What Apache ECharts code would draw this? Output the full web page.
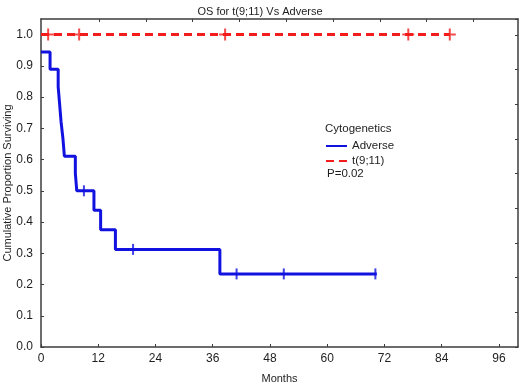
<!DOCTYPE html>
<html>
<head>
<meta charset="utf-8">
<script src="https://cdn.jsdelivr.net/npm/echarts@6/dist/echarts.min.js"></script>
<style>
html,body{margin:0;padding:0;background:#fff;}
#chart{width:520px;height:384px;}
</style>
</head>
<body>
<div id="chart"></div>
<script>
// ---- data ----
const titleText = 'OS for t(9;11) Vs Adverse';
const xTicks = [0, 12, 24, 36, 48, 60, 72, 84, 96];
// Adverse: step starts (months) and survival level from that time
const adverseTimes = [0, 1.9, 3.6, 3.9, 4.2, 4.6, 4.9, 7.2, 7.5, 11.1, 12.5, 15.6, 37.5, 70.4];
const adverseSurv  = [0.944, 0.889, 0.833, 0.778, 0.722, 0.667, 0.611, 0.556, 0.5, 0.4375, 0.375, 0.3125, 0.234, 0.234];
const adverseCensorTimes = [9.0, 19.3, 41.0, 50.9, 70.1];
const adverseCensorSurv  = [0.5, 0.3125, 0.234, 0.234, 0.234];
// t(9;11)
const t911Times = [0, 85.7];
const t911Surv  = [1.0, 1.0];
const t911CensorTimes = [1.5, 8.0, 38.6, 77.0, 85.7];
const t911CensorSurv  = [1.0, 1.0, 1.0, 1.0, 1.0];

const zip = (a, b) => a.map((v, i) => [v, b[i]]);
const BLUE = '#1212e0';
const RED = '#f21c1c';
const AX = '#3c3c3c';
const TXT = '#1e1e1e';
const FONT = '"Liberation Sans", Arial, sans-serif';
const plusPath = 'path://M-1,-6 L1,-6 L1,-1 L6,-1 L6,1 L1,1 L1,6 L-1,6 L-1,1 L-6,1 L-6,-1 L-1,-1 Z';

const chart = echarts.init(document.getElementById('chart'), null, {renderer: 'canvas'});
chart.setOption({
  animation: false,
  backgroundColor: '#fff',
  textStyle: {fontFamily: FONT},
  title: {
    text: titleText, left: 'center', top: 1,
    textStyle: {fontSize: 11, fontWeight: 'normal', color: TXT, fontFamily: FONT}
  },
  grid: {left: 41, right: 2, top: 19, bottom: 37, containLabel: false, outerBoundsMode: 'none'},
  legend: {
    data: ['Adverse', 't(9;11)'],
    orient: 'vertical', left: 325, top: 140,
    itemWidth: 21, itemHeight: 12, itemGap: 3,
    padding: 0,
    itemStyle: {opacity: 0},
    textStyle: {fontSize: 11.5, color: TXT, fontFamily: FONT},
    selectedMode: false
  },
  graphic: [
    {type: 'text', left: 325, top: 123, style: {text: 'Cytogenetics', font: '11.5px "Liberation Sans", Arial, sans-serif', fill: TXT}},
    {type: 'text', left: 327, top: 168, style: {text: 'P=0.02', font: '11.5px "Liberation Sans", Arial, sans-serif', fill: TXT}}
  ],
  xAxis: [
    {
      type: 'value', position: 'bottom', min: 0, max: 100, interval: 12,
      name: 'Months', nameLocation: 'middle', nameGap: 26, nameMoveOverlap: false,
      nameTextStyle: {fontSize: 11, color: TXT, fontFamily: FONT},
      axisLine: {show: true, onZero: false, lineStyle: {color: AX, width: 1.5}},
      axisTick: {show: true, inside: true, length: 3, lineStyle: {color: AX}},
      axisLabel: {fontSize: 12, color: TXT, margin: 6, showMaxLabel: false,
        formatter: v => (xTicks.indexOf(v) >= 0 ? String(v) : '')},
      splitLine: {show: false}
    },
    {
      type: 'value', position: 'top', min: -0.239, max: 9.953, interval: 1,
      axisLine: {show: true, onZero: false, lineStyle: {color: AX, width: 1.5}},
      axisTick: {show: true, inside: true, length: 3, lineStyle: {color: AX},
        customValues: [1, 2, 3, 4, 5, 6, 7, 8, 9]},
      axisLabel: {show: false},
      splitLine: {show: false}
    }
  ],
  yAxis: [
    {
      type: 'value', position: 'left', min: 0, max: 1.05, interval: 0.1,
      name: 'Cumulative Proportion Surviving', nameLocation: 'middle', nameGap: 28, nameMoveOverlap: false,
      nameTextStyle: {fontSize: 11, color: TXT, fontFamily: FONT},
      axisLine: {show: true, onZero: false, lineStyle: {color: AX, width: 1.5}},
      axisTick: {show: true, inside: true, length: 3, lineStyle: {color: AX}},
      axisLabel: {fontSize: 12, color: TXT, margin: 8, showMaxLabel: false,
        formatter: v => (v <= 1.0001 ? v.toFixed(1) : '')},
      splitLine: {show: false}
    },
    {
      type: 'value', position: 'right', min: 0, max: 9.46, interval: 1,
      axisLine: {show: true, onZero: false, lineStyle: {color: AX, width: 1.5}},
      axisTick: {show: true, inside: true, length: 3, lineStyle: {color: AX}},
      axisLabel: {show: false},
      splitLine: {show: false}
    }
  ],
  series: [
    {
      name: 'Adverse', type: 'line', step: 'end',
      xAxisIndex: 0, yAxisIndex: 0,
      data: zip(adverseTimes, adverseSurv),
      symbol: 'none', showSymbol: false,
      lineStyle: {color: BLUE, width: 3},
      itemStyle: {color: BLUE},
      z: 3
    },
    {
      name: 't(9;11)', type: 'line',
      xAxisIndex: 0, yAxisIndex: 0,
      data: zip(t911Times, t911Surv),
      symbol: 'none', showSymbol: false,
      lineStyle: {color: RED, width: 3, type: [8, 5]},
      itemStyle: {color: RED},
      z: 3
    },
    {
      name: 'Adverse censored', type: 'scatter',
      xAxisIndex: 0, yAxisIndex: 0,
      data: zip(adverseCensorTimes, adverseCensorSurv),
      symbol: 'rect', symbolSize: [2, 11],
      itemStyle: {color: BLUE},
      z: 4
    },
    {
      name: 't(9;11) censored', type: 'scatter',
      xAxisIndex: 0, yAxisIndex: 0,
      data: zip(t911CensorTimes, t911CensorSurv),
      symbol: plusPath, symbolSize: 12,
      itemStyle: {color: RED},
      z: 4
    }
  ]
});
</script>
</body>
</html>
